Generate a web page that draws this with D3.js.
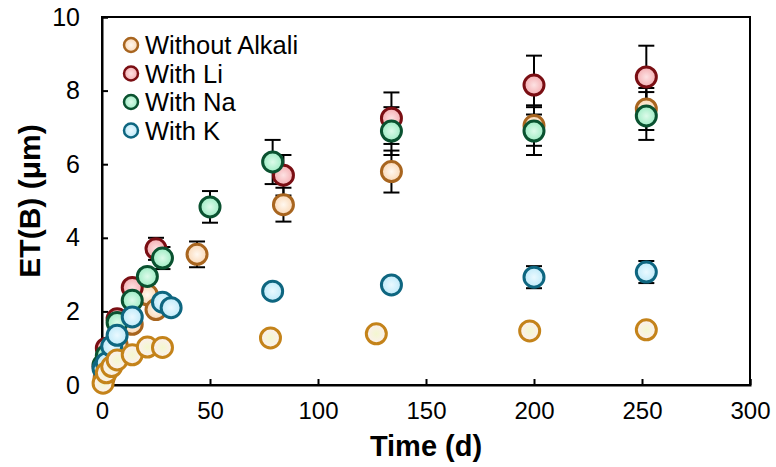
<!DOCTYPE html>
<html>
<head>
<meta charset="utf-8">
<script src="https://cdn.jsdelivr.net/npm/d3@7"></script>
<style>
  body { margin: 0; background: #fff; }
  svg text { font-family: "Liberation Sans", Arial, sans-serif; fill: #000; }
</style>
</head>
<body>
<div id="chart"></div>
<script>
// values (time in days, ET(B) in µm, err = ± error bar)
var noAlkaliT   = [1, 3, 7, 14, 21, 25, 44, 84, 134, 200, 252];
var noAlkaliV   = [0.2, 0.5, 1.1, 1.65, 2.45, 2.05, 3.55, 4.9, 5.8, 7.05, 7.5];
var noAlkaliErr = [0.05, 0.05, 0.1, 0.1, 0.15, 0.15, 0.35, 0.46, 0.57, 0.55, 0.57];

var liT   = [0.5, 2, 7, 14, 25, 84, 134, 200, 252];
var liV   = [0.5, 1.0, 1.8, 2.65, 3.7, 5.7, 7.25, 8.15, 8.37];
var liErr = [0.05, 0.1, 0.1, 0.15, 0.3, 0.55, 0.7, 0.8, 0.85];

var naT   = [0.5, 2, 7, 14, 21, 28, 50, 79, 134, 200, 252];
var naV   = [0.55, 0.8, 1.7, 2.3, 2.95, 3.45, 4.84, 6.06, 6.9, 6.9, 7.31];
var naErr = [0.05, 0.1, 0.1, 0.15, 0.2, 0.3, 0.43, 0.6, 0.65, 0.65, 0.65];

var kT   = [0.5, 2, 4.5, 7, 14, 28, 32, 79, 134, 200, 252];
var kV   = [0.45, 0.6, 1.05, 1.35, 1.85, 2.25, 2.1, 2.55, 2.72, 2.93, 3.07];
var kErr = [0.05, 0.05, 0.05, 0.1, 0.1, 0.1, 0.1, 0.1, 0.15, 0.3, 0.3];

// extra series without legend entry (golden outline)
var lowT = [0.5, 2, 4.5, 7, 14, 21, 28, 78, 127, 198, 252];
var lowV = [0.05, 0.33, 0.5, 0.68, 0.82, 1.03, 1.02, 1.28, 1.39, 1.47, 1.5];

var xTicks = [0, 50, 100, 150, 200, 250, 300];
var yTicks = [0, 2, 4, 6, 8, 10];

var W = 776, H = 467;
var margin = {top: 17, right: 26, bottom: 82, left: 102};
var width = W - margin.left - margin.right,
    height = H - margin.top - margin.bottom;

var series = [
  {name: 'Without Alkali', t: noAlkaliT, v: noAlkaliV, e: noAlkaliErr, stroke: '#A8651F', c0: '#FFF8F0', c1: '#FAD8B6', legend: true},
  {name: 'With Li', t: liT, v: liV, e: liErr, stroke: '#7A0E13', c0: '#FDE2E3', c1: '#F4AEB2', legend: true},
  {name: 'With Na', t: naT, v: naV, e: naErr, stroke: '#0A5230', c0: '#DDFBEA', c1: '#9EECC4', legend: true},
  {name: 'With K', t: kT, v: kV, e: kErr, stroke: '#0E6680', c0: '#EAF9FF', c1: '#BFEAF9', legend: true},
  {name: 'low', t: lowT, v: lowV, e: null, stroke: '#C4831A', c0: '#F3F7CF', c1: '#FCEFEF', legend: false}
];

var svg = d3.select('#chart').append('svg')
  .attr('width', W).attr('height', H);

var defs = svg.append('defs');
series.forEach(function(s, i) {
  var g = defs.append('radialGradient').attr('id', 'grad' + i);
  g.append('stop').attr('offset', '0%').attr('stop-color', s.c0);
  g.append('stop').attr('offset', '100%').attr('stop-color', s.c1);
});

var g = svg.append('g')
  .attr('transform', 'translate(' + margin.left + ',' + margin.top + ')');

var x = d3.scaleLinear().domain([0, 300]).range([0, width]);
var y = d3.scaleLinear().domain([0, 10]).range([height, 0]);

// frame
g.append('rect')
  .attr('width', width).attr('height', height)
  .attr('fill', 'none').attr('stroke', '#000').attr('stroke-width', 2);

var xAxis = g.append('g')
  .attr('transform', 'translate(0,' + height + ')')
  .call(d3.axisBottom(x).tickValues(xTicks).tickSize(-6).tickPadding(17));
var yAxis = g.append('g')
  .call(d3.axisLeft(y).tickValues(yTicks).tickSize(-6).tickPadding(22));

[xAxis, yAxis].forEach(function(a) {
  a.select('.domain').attr('stroke-width', 2);
  a.selectAll('.tick line').attr('stroke-width', 2);
  a.selectAll('.tick text').style('font-size', '25px')
    .style('font-family', '"Liberation Sans", Arial, sans-serif').attr('fill', '#000');
});
xAxis.selectAll('.tick text').style('font-size', '24px');

svg.append('text')
  .attr('x', margin.left + width / 2).attr('y', 456)
  .attr('text-anchor', 'middle')
  .style('font-size', '29px').style('font-weight', 'bold')
  .text('Time (d)');

svg.append('text')
  .attr('transform', 'translate(40,' + (margin.top + height / 2) + ') rotate(-90)')
  .attr('text-anchor', 'middle')
  .style('font-size', '30px').style('font-weight', 'bold')
  .text('ET(B) (μm)');

// error bars behind markers
series.forEach(function(s) {
  if (!s.e) return;
  var eb = g.append('g');
  d3.range(s.t.length).forEach(function(i) {
    var cx = x(s.t[i]), top = y(s.v[i] + s.e[i]), bot = y(s.v[i] - s.e[i]);
    eb.append('line').attr('x1', cx).attr('x2', cx).attr('y1', top).attr('y2', bot)
      .attr('stroke', '#000').attr('stroke-width', 2);
    [top, bot].forEach(function(yy) {
      eb.append('line').attr('x1', cx - 8).attr('x2', cx + 8).attr('y1', yy).attr('y2', yy)
        .attr('stroke', '#000').attr('stroke-width', 2);
    });
  });
});

// markers
series.forEach(function(s, si) {
  g.append('g').selectAll('circle')
    .data(d3.range(s.t.length))
    .enter().append('circle')
    .attr('cx', function(i) { return x(s.t[i]); })
    .attr('cy', function(i) { return y(s.v[i]); })
    .attr('r', 10)
    .attr('fill', 'url(#grad' + si + ')')
    .attr('stroke', s.stroke)
    .attr('stroke-width', 3);
});

// legend
var leg = g.append('g').attr('transform', 'translate(29,28)');
series.filter(function(s) { return s.legend; }).forEach(function(s, i) {
  var si = series.indexOf(s);
  var row = leg.append('g').attr('transform', 'translate(0,' + (i * 28.5) + ')');
  row.append('circle').attr('r', 7).attr('fill', 'url(#grad' + si + ')')
    .attr('stroke', s.stroke).attr('stroke-width', 2.5);
  row.append('text').attr('x', 14).attr('y', 9)
    .style('font-size', '25.5px').text(s.name);
});
</script>
</body>
</html>
